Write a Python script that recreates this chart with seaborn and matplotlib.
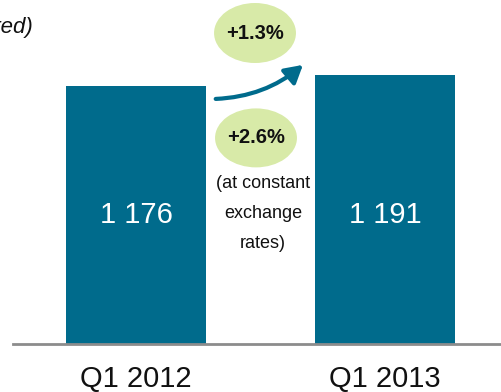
import matplotlib
matplotlib.use("Agg")
import matplotlib.pyplot as plt
from matplotlib.patches import Ellipse, FancyArrowPatch
import seaborn as sns
import pandas as pd

# Quarterly revenue
quarters = ["Q1 2012", "Q1 2013"]
revenue = [1176, 1191]
bar_labels = ["1 176", "1 191"]
growth_reported = "+1.3%"
growth_constant = "+2.6%"
constant_note = ["(at constant", "exchange", "rates)"]

BAR_COLOR = "#006B8C"
BUBBLE_COLOR = "#D8EAA8"

sns.set_theme(style="white")
plt.rcParams["font.family"] = ["Liberation Sans", "DejaVu Sans"]

df = pd.DataFrame({"quarter": quarters, "revenue": revenue})

fig = plt.figure(figsize=(5.02, 3.92), dpi=100)
ax = fig.add_axes([13 / 502, 48 / 392, 489 / 502, 344 / 392])

sns.barplot(data=df, x="quarter", y="revenue", color=BAR_COLOR, saturation=1,
            width=0.562, ax=ax)
for p in ax.patches:
    p.set_edgecolor("none")

ax.set_xlim(-0.494, 1.470)
ax.set_ylim(824, 1293)

for spine in ["top", "right", "left"]:
    ax.spines[spine].set_visible(False)
ax.spines["bottom"].set_color("#8C8C8C")
ax.spines["bottom"].set_linewidth(2)
ax.set_yticks([])
ax.set_xlabel("")
ax.set_ylabel("")
ax.tick_params(axis="x", length=0, pad=15, labelsize=21, labelcolor="#111111")

# Values inside the bars
for i, (v, lab) in enumerate(zip(revenue, bar_labels)):
    ax.text(i, 1000, lab, ha="center", va="center", color="white", fontsize=21)

# Growth bubbles
ax.add_patch(Ellipse((0.478, 1248), 0.329, 81.8, facecolor=BUBBLE_COLOR,
                     edgecolor="none", zorder=3))
ax.text(0.478, 1248, growth_reported, ha="center", va="center",
        fontsize=14.5, fontweight="bold", color="#111111", zorder=4)

ax.add_patch(Ellipse((0.482, 1105), 0.329, 80.4, facecolor=BUBBLE_COLOR,
                     edgecolor="none", zorder=3))
ax.text(0.482, 1105, growth_constant, ha="center", va="center",
        fontsize=14.5, fontweight="bold", color="#111111", zorder=4)

for yv, line in zip([1043.5, 1002.6, 961.7], constant_note):
    ax.text(0.51, yv, line, ha="center", va="center", fontsize=13,
            color="#111111")

# Curved growth arrow
arrow = FancyArrowPatch((0.309, 1158), (0.679, 1207),
                        connectionstyle="arc3,rad=0.18",
                        arrowstyle="-|>,head_length=7,head_width=4",
                        color=BAR_COLOR, linewidth=3, mutation_scale=1.5,
                        zorder=3)
ax.add_patch(arrow)

# Chart title (runs off the left edge)
fig.text(33 / 502, 1 - 28 / 392, "(in € millions, as reported)", ha="right",
         va="center", fontsize=16, fontstyle="italic", color="#111111")

fig.savefig("out.png", dpi=100)
